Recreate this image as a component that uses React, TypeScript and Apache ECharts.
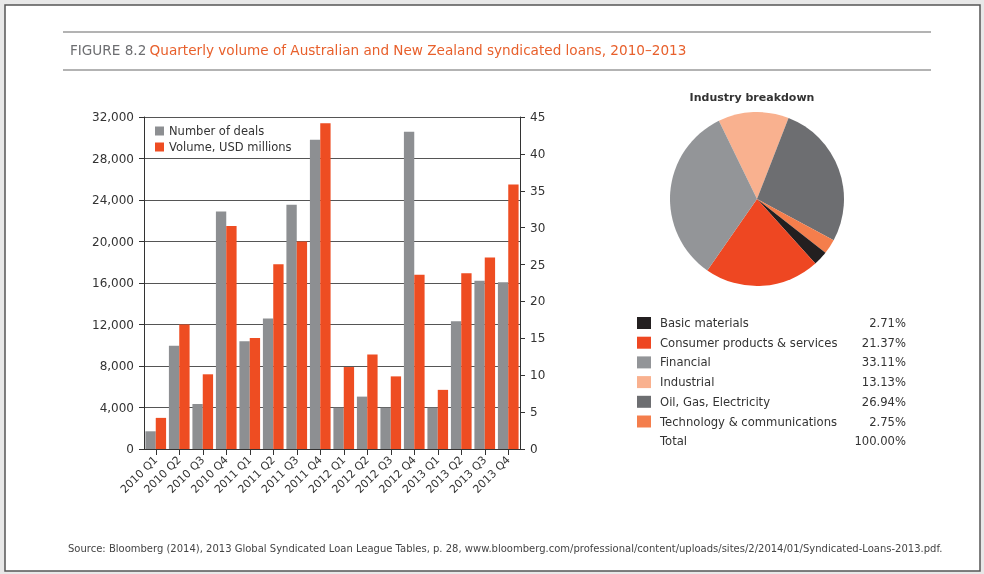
import React, { useEffect, useRef } from "react";
import * as echarts from "echarts";

const quarters = [
  "2010 Q1", "2010 Q2", "2010 Q3", "2010 Q4",
  "2011 Q1", "2011 Q2", "2011 Q3", "2011 Q4",
  "2012 Q1", "2012 Q2", "2012 Q3", "2012 Q4",
  "2013 Q1", "2013 Q2", "2013 Q3", "2013 Q4",
];
// Number of deals (right axis)
const deals = [2.4, 14, 6.1, 32.2, 14.6, 17.7, 33.1, 41.9, 5.6, 7.1, 5.6, 43, 5.6, 17.3, 22.8, 22.6];
// Volume, USD millions (left axis)
const volume = [3000, 12000, 7200, 21500, 10700, 17800, 20000, 31400, 7900, 9100, 7000, 16800, 5700, 16950, 18450, 25500];

const industries = [
  "Basic materials",
  "Consumer products & services",
  "Financial",
  "Industrial",
  "Oil, Gas, Electricity",
  "Technology & communications",
];
const shares = [2.71, 21.37, 33.11, 13.13, 26.94, 2.75];
const industryColors = ["#231f20", "#ee4722", "#939598", "#f9b18f", "#6d6e71", "#f47e4c"];
// order in which slices run clockwise around the pie
const pieOrder = [
  "Industrial",
  "Oil, Gas, Electricity",
  "Technology & communications",
  "Basic materials",
  "Consumer products & services",
  "Financial",
];
const totalLabel = "Total";
const totalValue = "100.00%";

const titleFigure = "FIGURE 8.2";
const titleText = "Quarterly volume of Australian and New Zealand syndicated loans, 2010–2013";
const sourceText =
  "Source: Bloomberg (2014), 2013 Global Syndicated Loan League Tables, p. 28, www.bloomberg.com/professional/content/uploads/sites/2/2014/01/Syndicated-Loans-2013.pdf.";

const FONT = "DejaVu Sans";

export default function App() {
  const ref = useRef<HTMLDivElement>(null);
  useEffect(() => {
    if (!ref.current) return;
    const chart = echarts.init(ref.current, undefined, { renderer: "svg" });

    const legendRows: any[] = [];
    industries.forEach((name, i) => {
      const y = 317 + i * 19.7;
      legendRows.push({
        type: "rect",
        shape: { x: 637, y, width: 14, height: 12 },
        style: { fill: industryColors[i] },
      });
      legendRows.push({
        type: "text",
        x: 660, y: y + 6,
        style: { text: name, fill: "#333", font: `11.6px "${FONT}"`, textVerticalAlign: "middle" },
      });
      legendRows.push({
        type: "text",
        x: 906, y: y + 6,
        style: { text: shares[i].toFixed(2) + "%", fill: "#333", font: `11.6px "${FONT}"`, textAlign: "right", textVerticalAlign: "middle" },
      });
    });
    const ty = 317 + industries.length * 19.7;
    legendRows.push({
      type: "text", x: 660, y: ty + 6,
      style: { text: totalLabel, fill: "#333", font: `11.6px "${FONT}"`, textVerticalAlign: "middle" },
    });
    legendRows.push({
      type: "text", x: 906, y: ty + 6,
      style: { text: totalValue, fill: "#333", font: `11.6px "${FONT}"`, textAlign: "right", textVerticalAlign: "middle" },
    });

    const pieData = pieOrder.map((n) => {
      const i = industries.indexOf(n);
      return { name: n, value: shares[i], itemStyle: { color: industryColors[i] } };
    });

    chart.setOption({
      animation: false,
      textStyle: { fontFamily: FONT },
      grid: { left: 144, top: 117, width: 376, height: 332, containLabel: false },
      legend: {
        data: ["Number of deals", "Volume, USD millions"],
        orient: "vertical",
        left: 150,
        top: 120,
        itemWidth: 9,
        itemHeight: 9,
        itemGap: 4,
        icon: "rect",
        textStyle: { fontSize: 11.5, color: "#333", fontFamily: FONT },
      },
      xAxis: {
        type: "category",
        data: quarters,
        axisLine: { show: true, lineStyle: { color: "#333", width: 1 } },
        axisTick: { show: true, alignWithLabel: true, length: 6, lineStyle: { color: "#333" } },
        axisLabel: { rotate: 45, interval: 0, fontSize: 11, color: "#333", margin: 9, fontFamily: FONT },
      },
      yAxis: [
        {
          type: "value",
          position: "left",
          min: 0,
          max: 32000,
          interval: 4000,
          axisLine: { show: true, lineStyle: { color: "#333", width: 1 } },
          axisTick: { show: true, length: 5, lineStyle: { color: "#333" } },
          splitLine: { show: true, lineStyle: { color: "#555", width: 1 } },
          axisLabel: {
            fontSize: 12, color: "#333", margin: 10, fontFamily: FONT,
            formatter: (v: number) => v.toLocaleString("en-US"),
          },
        },
        {
          type: "value",
          position: "right",
          min: 0,
          max: 45,
          interval: 5,
          axisLine: { show: true, lineStyle: { color: "#333", width: 1 } },
          axisTick: { show: true, length: 5, lineStyle: { color: "#333" } },
          splitLine: { show: false },
          axisLabel: { fontSize: 12, color: "#333", margin: 10, fontFamily: FONT },
        },
      ],
      series: [
        {
          name: "Number of deals",
          type: "bar",
          yAxisIndex: 1,
          data: deals,
          itemStyle: { color: "#8d8f92" },
          barGap: "0%",
          barCategoryGap: "12%",
          silent: true,
        },
        {
          name: "Volume, USD millions",
          type: "bar",
          yAxisIndex: 0,
          data: volume,
          itemStyle: { color: "#ee4d22" },
          barGap: "0%",
          barCategoryGap: "12%",
          silent: true,
        },
        {
          name: "Industry breakdown",
          type: "pie",
          center: [757, 199],
          radius: 87,
          startAngle: 116,
          clockwise: true,
          label: { show: false },
          labelLine: { show: false },
          silent: true,
          data: pieData,
        },
      ],
      graphic: [
        { type: "rect", z: -100, shape: { x: 0, y: 0, width: 984, height: 574 }, style: { fill: "#e8e8e8" } },
        { type: "rect", z: -99, shape: { x: 5, y: 5, width: 975, height: 566 }, style: { fill: "#fff", stroke: "#555", lineWidth: 1.5 } },
        { type: "line", shape: { x1: 63, y1: 32, x2: 931, y2: 32 }, style: { stroke: "#9a9a9a", lineWidth: 1.5 } },
        { type: "line", shape: { x1: 63, y1: 70, x2: 931, y2: 70 }, style: { stroke: "#9a9a9a", lineWidth: 1.5 } },
        {
          type: "text", x: 70, y: 50,
          style: {
            text: `{a|${titleFigure}} {b|${titleText}}`,
            textVerticalAlign: "middle",
            rich: {
              a: { fill: "#6d6e71", fontSize: 13.6, fontFamily: FONT },
              b: { fill: "#e8602c", fontSize: 13.6, fontFamily: FONT },
            },
          } as any,
        },
        {
          type: "text", x: 752, y: 97,
          style: { text: "Industry breakdown", fill: "#333", font: `bold 11px "${FONT}"`, textAlign: "center", textVerticalAlign: "middle" },
        },
        ...legendRows,
        {
          type: "text", x: 68, y: 548,
          style: { text: sourceText, fill: "#444", font: `10px "${FONT}"`, textVerticalAlign: "middle" },
        },
      ],
    });
    return () => chart.dispose();
  }, []);
  return <div ref={ref} style={{ position: "fixed", left: 0, top: 0, width: 984, height: 574 }} />;
}
